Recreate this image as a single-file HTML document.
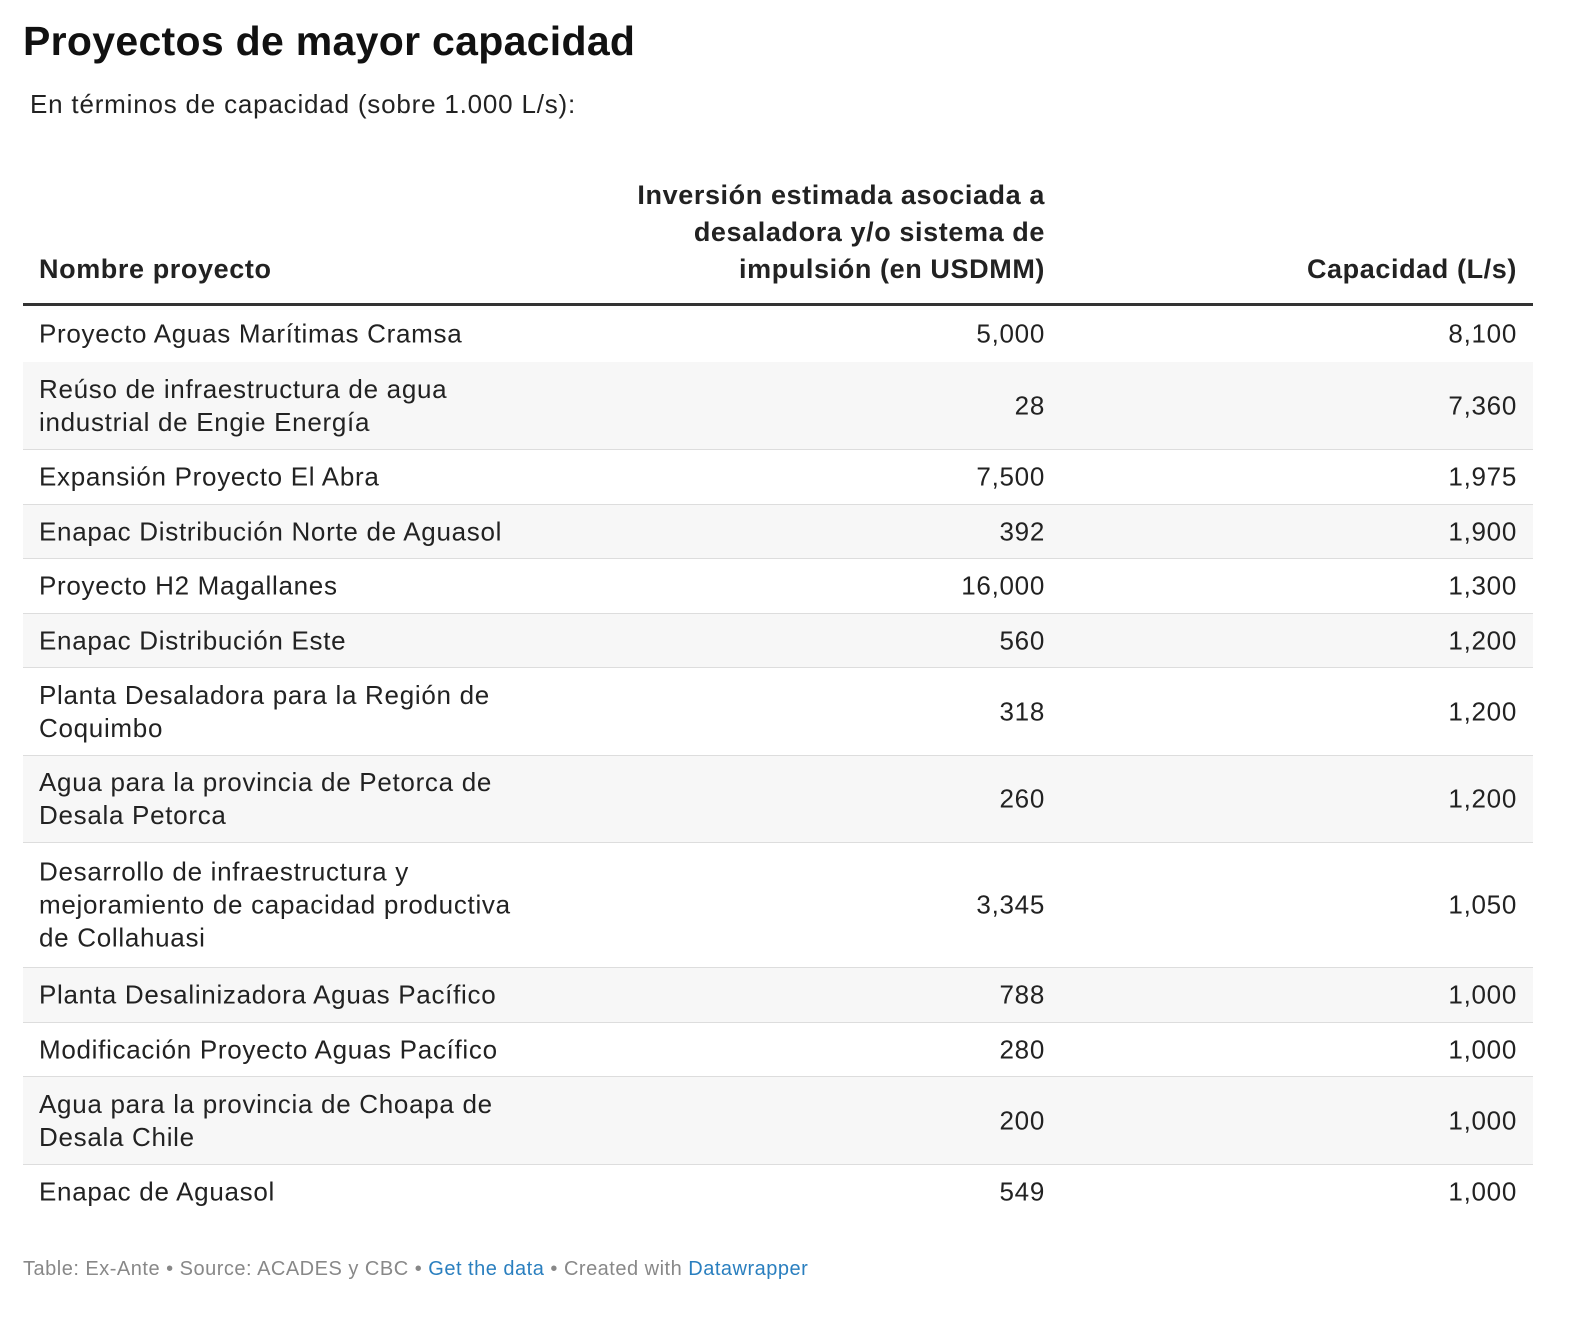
<!DOCTYPE html>
<html><head><meta charset="utf-8"><style>
body{margin:0;width:1576px;height:1319px;background:#fff;font-family:"Liberation Sans",sans-serif;color:#1a1a1a;position:relative;overflow:hidden}
.t{position:absolute;left:23px;top:18px;font-size:41px;font-weight:bold;letter-spacing:0.3px;color:#111}
.s{position:absolute;left:30px;top:89px;font-size:26px;letter-spacing:0.8px;color:#222}
.h{position:absolute;font-size:27px;font-weight:bold;line-height:37px;color:#222;letter-spacing:0.6px}
.hl{position:absolute;left:23px;width:1510px;top:303px;height:3px;background:#333}
.r{position:absolute;left:23px;width:1510px;border-bottom:1px solid #ddd;font-size:26px;line-height:33px;color:#222;letter-spacing:0.7px}
.r.g{background:#f7f7f7}
.r div{position:absolute;top:50%;transform:translateY(-50%)}
.a{left:16px;width:560px}
.b{right:488px;text-align:right}
.c{right:16px;text-align:right}
.f{position:absolute;left:23px;top:1258px;font-size:20px;letter-spacing:0.5px;color:#888}
.f span{color:#2a7fbf}
</style></head><body>
<div class="t">Proyectos de mayor capacidad</div>
<div class="s">En términos de capacidad (sobre 1.000 L/s):</div>
<div class="h" style="left:39px;top:251px">Nombre proyecto</div>
<div class="h" style="right:531px;top:177px;text-align:right">Inversión estimada asociada a<br>desaladora y/o sistema de<br>impulsión (en USDMM)</div>
<div class="h" style="right:59px;top:251px">Capacidad (L/s)</div>
<div class="hl"></div>
<div class="r" style="top:306px;height:56px"><div class="a">Proyecto Aguas Marítimas Cramsa</div><div class="b">5,000</div><div class="c">8,100</div></div>
<div class="r g" style="top:362px;height:87px"><div class="a">Reúso de infraestructura de agua<br>industrial de Engie Energía</div><div class="b">28</div><div class="c">7,360</div></div>
<div class="r" style="top:450px;height:54px"><div class="a">Expansión Proyecto El Abra</div><div class="b">7,500</div><div class="c">1,975</div></div>
<div class="r g" style="top:505px;height:53px"><div class="a">Enapac Distribución Norte de Aguasol</div><div class="b">392</div><div class="c">1,900</div></div>
<div class="r" style="top:559px;height:54px"><div class="a">Proyecto H2 Magallanes</div><div class="b">16,000</div><div class="c">1,300</div></div>
<div class="r g" style="top:614px;height:53px"><div class="a">Enapac Distribución Este</div><div class="b">560</div><div class="c">1,200</div></div>
<div class="r" style="top:668px;height:87px"><div class="a">Planta Desaladora para la Región de<br>Coquimbo</div><div class="b">318</div><div class="c">1,200</div></div>
<div class="r g" style="top:756px;height:86px"><div class="a">Agua para la provincia de Petorca de<br>Desala Petorca</div><div class="b">260</div><div class="c">1,200</div></div>
<div class="r" style="top:843px;height:124px"><div class="a">Desarrollo de infraestructura y<br>mejoramiento de capacidad productiva<br>de Collahuasi</div><div class="b">3,345</div><div class="c">1,050</div></div>
<div class="r g" style="top:968px;height:54px"><div class="a">Planta Desalinizadora Aguas Pacífico</div><div class="b">788</div><div class="c">1,000</div></div>
<div class="r" style="top:1023px;height:53px"><div class="a">Modificación Proyecto Aguas Pacífico</div><div class="b">280</div><div class="c">1,000</div></div>
<div class="r g" style="top:1077px;height:87px"><div class="a">Agua para la provincia de Choapa de<br>Desala Chile</div><div class="b">200</div><div class="c">1,000</div></div>
<div class="r" style="top:1165px;height:54px;border-bottom:none"><div class="a">Enapac de Aguasol</div><div class="b">549</div><div class="c">1,000</div></div>
<div class="f">Table: Ex-Ante • Source: ACADES y CBC • <span>Get the data</span> • Created with <span>Datawrapper</span></div>
</body></html>
